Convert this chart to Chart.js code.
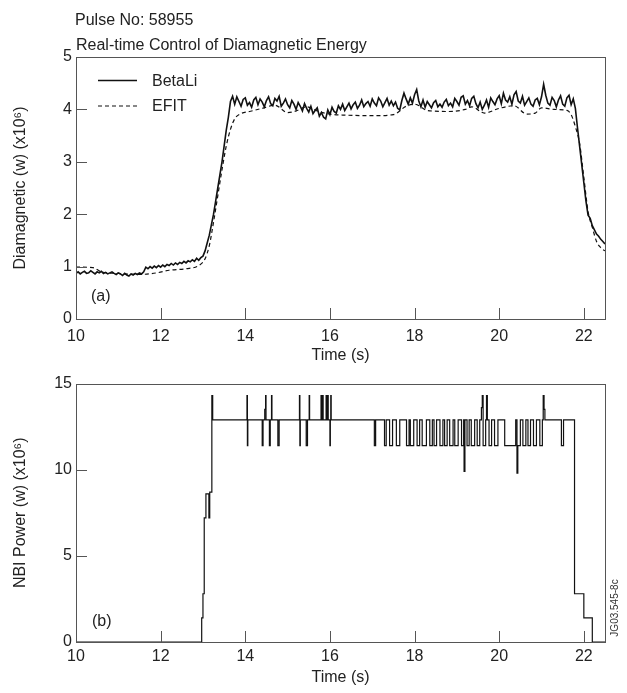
<!DOCTYPE html>
<html>
<head>
<meta charset="utf-8">
<title>Pulse No: 58955</title>
<script src="https://cdn.jsdelivr.net/npm/chart.js@4.4.0/dist/chart.umd.min.js"></script>
<style>
  body { margin: 0; background: #fff; }
  #wrap { position: relative; width: 627px; height: 693px; }
  canvas { position: absolute; left: 0; }
  #topChart { top: 0; }
  #bottomChart { top: 370px; }
</style>
</head>
<body>
<div id="wrap">
  <canvas id="topChart" width="627" height="370"></canvas>
  <canvas id="bottomChart" width="627" height="323"></canvas>
</div>
<script>
// tick labels
var timeTicks = [10, 12, 14, 16, 18, 20, 22];
var energyTicks = [0, 1, 2, 3, 4, 5];
var powerTicks = [0, 5, 10, 15];

// BetaLi, sampled every 0.05 s from 10 s (x10^6 w)
var betaStart = 10.0;
var betaStep = 0.05;
var betaLi = [
  0.87, 0.90, 0.86, 0.89, 0.91, 0.87, 0.88, 0.92, 0.89, 0.86, 0.90, 0.88, 0.91, 0.87, 0.89, 0.86, 0.88, 0.90, 0.87, 0.85, 0.88,
  0.86, 0.83, 0.87, 0.84, 0.82, 0.86, 0.84, 0.87, 0.85, 0.88, 0.86, 0.90, 0.99, 0.96, 1.00, 0.97, 1.01, 0.98, 1.02, 0.99,
  1.03, 1.00, 1.04, 1.02, 1.06, 1.03, 1.07, 1.04, 1.08, 1.06, 1.10, 1.07, 1.11, 1.09, 1.13, 1.10, 1.16, 1.12, 1.17, 1.20,
  1.30, 1.45, 1.60, 1.80, 2.00, 2.25, 2.50, 2.75, 3.00, 3.30, 3.60, 3.85, 4.15, 4.25,
  4.10, 4.24, 4.15, 4.06, 4.19, 4.22, 4.08, 4.13, 4.04, 4.18, 4.23, 4.09, 4.20, 4.14, 4.05, 4.17, 4.24, 4.11,
  4.07, 4.21, 4.16, 4.25, 4.06, 4.12, 4.20, 4.09, 4.03, 4.17, 4.10, 4.00, 4.13, 4.06, 3.97, 4.11, 4.02, 3.95,
  4.06, 3.92, 3.98, 4.03, 3.87, 3.94, 3.85, 3.82, 3.99, 3.90,
  4.04, 3.96, 3.93, 4.07, 4.00, 4.10, 3.98, 4.05, 4.12, 4.01, 4.09, 4.14, 4.02, 4.08, 4.18,
  4.05, 4.11, 4.15, 4.06, 4.20, 4.12, 4.07, 4.22, 4.16, 4.05, 4.13, 4.21, 4.08, 4.16, 4.07,
  4.14, 4.02, 3.99, 4.17, 4.31, 4.20, 4.10, 4.22, 4.12, 4.28, 4.38, 4.16, 4.05, 4.18,
  4.04, 4.15, 4.09, 4.03, 4.13, 4.17, 4.05, 4.10, 4.04, 4.14, 4.19, 4.07, 4.12,
  4.05, 4.21, 4.15, 4.08, 4.23, 4.26, 4.10, 4.17, 4.07, 4.21, 4.25, 4.11, 4.03,
  4.14, 4.00, 4.08, 4.18, 4.04, 4.22, 4.15, 4.09, 4.20, 4.26, 4.11, 4.31, 4.18, 4.14, 4.24, 4.10, 4.28, 4.34, 4.16, 4.12,
  4.25, 4.08, 4.15, 4.22, 4.10, 4.06, 4.18, 4.21, 4.09, 4.24, 4.48, 4.27, 4.12,
  4.08, 4.23, 4.17, 4.05, 4.18, 4.26, 4.10, 4.06, 4.22, 4.27, 4.09, 4.20, 4.02,
  3.65, 3.30, 2.95, 2.60, 2.25, 1.98, 1.92, 1.78, 1.70, 1.62, 1.58, 1.52, 1.48, 1.43
];

// EFIT reconstruction (x10^6 w)
var efitTime = [10.0, 10.4, 10.6, 11.0, 11.5, 11.9, 12.2, 12.6, 12.9, 13.05, 13.15, 13.25, 13.35, 13.45, 13.55,
  13.65, 13.75, 13.9, 14.1, 14.4, 14.7, 15.0, 15.2, 15.45, 15.7, 16.0, 16.4, 17.0, 17.5, 17.8, 18.0, 18.3,
  18.8, 19.2, 19.35, 19.65, 20.0, 20.35, 20.65, 20.85, 21.0, 21.3, 21.6, 21.7, 21.8, 21.9, 22.0, 22.1,
  22.2, 22.3, 22.4, 22.5];
var efitEnergy = [0.99, 0.98, 0.90, 0.87, 0.85, 0.88, 0.93, 0.96, 1.02, 1.15, 1.40, 1.85, 2.35, 2.85, 3.30,
  3.62, 3.82, 3.92, 3.96, 4.02, 4.08, 3.94, 3.97, 4.05, 3.97, 3.91, 3.89, 3.88, 3.90, 4.06, 4.10, 3.98,
  3.96, 4.00, 4.05, 3.93, 4.02, 4.07, 3.91, 3.93, 4.03, 4.00, 3.98, 3.90, 3.67, 3.35, 2.70, 2.05,
  1.75, 1.48, 1.36, 1.30];

// NBI power, step changes (x10^6 w): each value holds until the next time
var nbiTime = [10.0, 12.97, 13.00, 13.03, 13.07, 13.14, 13.16, 13.21, 13.23,
  14.04, 14.05, 14.06, 14.40, 14.42, 14.46, 14.48, 14.49, 14.57, 14.59, 14.62, 14.63, 14.77, 14.80,
  15.28, 15.29, 15.30, 15.44, 15.47, 15.51, 15.52, 15.79, 15.81, 15.83, 15.84, 15.91, 15.93, 15.95, 15.96,
  16.00, 16.01, 16.02, 16.03, 17.05, 17.08, 17.29, 17.33,
  17.41, 17.48, 17.57, 17.65, 17.81, 17.87, 17.90, 17.98, 18.06, 18.12, 18.18, 18.28, 18.36, 18.42,
  18.46, 18.52, 18.60, 18.67, 18.71, 18.77, 18.83, 18.91, 18.95, 19.03, 19.11, 19.16, 19.17, 19.19,
  19.24, 19.29, 19.34, 19.42, 19.48, 19.54, 19.58, 19.60, 19.62, 19.68, 19.70, 19.72, 19.76, 19.82,
  19.89, 19.97, 20.13, 20.39, 20.42, 20.44, 20.50, 20.56, 20.63, 20.68, 20.74, 20.81, 20.88,
  20.96, 21.02, 21.04, 21.06, 21.08, 21.47, 21.52, 21.78, 22.00, 22.20, 22.5];
var nbiPower = [0, 1.4, 2.8, 7.2, 8.6, 7.2, 8.7, 14.3, 12.9,
  14.3, 11.4, 12.9, 11.4, 12.9, 13.5, 14.3, 12.9, 11.4, 12.9, 14.3, 12.9, 11.4, 12.9,
  14.3, 11.4, 12.9, 11.4, 12.9, 14.3, 12.9, 14.3, 12.9, 14.3, 12.9, 14.3, 12.9, 14.3, 12.9,
  11.4, 12.9, 14.3, 12.9, 11.4, 12.9, 11.4, 12.9,
  11.4, 12.9, 11.4, 12.9, 11.4, 12.9, 11.4, 12.9, 11.4, 12.9, 11.4, 12.9, 11.4, 12.9,
  11.4, 12.9, 11.4, 12.9, 11.4, 12.9, 11.4, 12.9, 11.4, 12.9, 11.4, 12.9, 9.9, 12.9,
  11.4, 12.9, 11.4, 12.9, 11.4, 12.9, 13.6, 14.3, 11.4, 12.9, 14.3, 12.9, 11.4, 12.9,
  11.4, 12.9, 11.4, 12.9, 9.8, 11.4, 12.9, 11.4, 12.9, 11.4, 12.9, 11.4, 12.9,
  11.4, 12.9, 14.3, 13.5, 12.9, 11.4, 12.9, 2.8, 1.4, 0, 0];

var textColor = '#222';
var fontFamily = '"Liberation Sans", Arial, Helvetica, sans-serif';

function toPoints(xs, ys) {
  return ys.map(function (v, i) { return { x: xs[i], y: v }; });
}

var betaPoints = betaLi.map(function (v, i) {
  return { x: +(betaStart + i * betaStep).toFixed(2), y: v };
});

// box round the plot area, ticks pointing inward, and the texts on the plot
var frameTicks = {
  id: 'frameTicks',
  afterDraw: function (chart, args, opts) {
    var ctx = chart.ctx;
    var a = chart.chartArea;
    var xs = chart.scales.x;
    var ys = chart.scales.y;
    ctx.save();
    ctx.strokeStyle = '#555';
    ctx.lineWidth = 1;
    ctx.strokeRect(Math.round(a.left) + 0.5, Math.round(a.top) + 0.5,
      Math.round(a.right - a.left), Math.round(a.bottom - a.top));
    ctx.beginPath();
    xs.ticks.forEach(function (t) {
      var px = Math.round(xs.getPixelForValue(t.value)) + 0.5;
      ctx.moveTo(px, a.bottom);
      ctx.lineTo(px, a.bottom - 11);
    });
    ys.ticks.forEach(function (t) {
      var py = Math.round(ys.getPixelForValue(t.value)) + 0.5;
      ctx.moveTo(a.left, py);
      ctx.lineTo(a.left + 11, py);
    });
    ctx.stroke();

    ctx.fillStyle = textColor;
    ctx.font = '16px ' + fontFamily;
    ctx.textAlign = 'left';
    ctx.textBaseline = 'middle';
    (opts.texts || []).forEach(function (t) {
      ctx.fillText(t.text, t.x, t.y);
    });

    if (opts.legend) {
      var lg = opts.legend;
      ctx.strokeStyle = '#111';
      ctx.lineWidth = 1.5;
      ctx.beginPath();
      ctx.moveTo(lg.x, lg.y1);
      ctx.lineTo(lg.x + 39, lg.y1);
      ctx.stroke();
      ctx.lineWidth = 1.2;
      ctx.setLineDash([4, 3]);
      ctx.beginPath();
      ctx.moveTo(lg.x, lg.y2);
      ctx.lineTo(lg.x + 39, lg.y2);
      ctx.stroke();
      ctx.setLineDash([]);
      ctx.fillText(lg.labels[0], lg.x + 54, lg.y1 + 1);
      ctx.fillText(lg.labels[1], lg.x + 54, lg.y2 + 1);
    }

    if (opts.code) {
      ctx.save();
      ctx.translate(opts.code.x, opts.code.y);
      ctx.rotate(-Math.PI / 2);
      ctx.font = '10px ' + fontFamily;
      ctx.fillStyle = '#333';
      ctx.textAlign = 'center';
      ctx.fillText(opts.code.text, 0, 0);
      ctx.restore();
    }
    ctx.restore();
  }
};

function axisOptions(ticksArr, min, max, title, labelPad, titlePad, fitSize, isX) {
  return {
    type: 'linear',
    min: min,
    max: max,
    afterBuildTicks: function (scale) {
      scale.ticks = ticksArr.map(function (v) { return { value: v }; });
    },
    afterFit: function (scale) {
      if (isX) { scale.height = fitSize; } else { scale.width = fitSize; }
    },
    grid: { display: false, drawTicks: false },
    border: { display: false },
    ticks: {
      autoSkip: false,
      maxRotation: 0,
      padding: labelPad,
      color: textColor,
      font: { family: fontFamily, size: 16 }
    },
    title: {
      display: true,
      text: title,
      color: textColor,
      padding: titlePad,
      font: { family: fontFamily, size: 16 }
    }
  };
}

var topChart = new Chart(document.getElementById('topChart'), {
  type: 'line',
  data: {
    datasets: [{
      label: 'BetaLi',
      data: betaPoints,
      borderColor: '#111',
      borderWidth: 1.6,
      pointRadius: 0,
      tension: 0
    }, {
      label: 'EFIT',
      data: toPoints(efitTime, efitEnergy),
      borderColor: '#111',
      borderWidth: 1.2,
      borderDash: [4, 3],
      pointRadius: 0,
      cubicInterpolationMode: 'monotone'
    }]
  },
  options: {
    responsive: false,
    animation: false,
    layout: { padding: { left: 0, right: 22, top: 57, bottom: 0 } },
    plugins: {
      legend: { display: false },
      tooltip: { enabled: false },
      frameTicks: {
        texts: [
          { text: 'Pulse No: 58955', x: 75, y: 21 },
          { text: 'Real-time Control of Diamagnetic Energy', x: 76, y: 46 },
          { text: '(a)', x: 91, y: 297 }
        ],
        legend: { x: 98, y1: 80.5, y2: 106, labels: ['BetaLi', 'EFIT'] }
      }
    },
    scales: {
      x: axisOptions(timeTicks, 10, 22.5, 'Time (s)', 8, { top: 2, bottom: 5 }, 51, true),
      y: axisOptions(energyTicks, 0, 5, 'Diamagnetic (w) (x10\u2076)', 4, { top: 11, bottom: 0 }, 76, false)
    }
  },
  plugins: [frameTicks]
});

var bottomChart = new Chart(document.getElementById('bottomChart'), {
  type: 'line',
  data: {
    datasets: [{
      label: 'NBI Power',
      data: toPoints(nbiTime, nbiPower),
      borderColor: '#111',
      borderWidth: 1.2,
      pointRadius: 0,
      stepped: 'before'
    }]
  },
  options: {
    responsive: false,
    animation: false,
    layout: { padding: { left: 0, right: 22, top: 11, bottom: 0 } },
    plugins: {
      legend: { display: false },
      tooltip: { enabled: false },
      frameTicks: {
        texts: [{ text: '(b)', x: 92, y: 252 }],
        code: { text: 'JG03.545-8c', x: 615, y: 238 }
      }
    },
    scales: {
      x: axisOptions(timeTicks, 10, 22.5, 'Time (s)', 5, { top: 2, bottom: 6 }, 51, true),
      y: axisOptions(powerTicks, 0, 15, 'NBI Power (w) (x10\u2076)', 4, { top: 11, bottom: 0 }, 76, false)
    }
  },
  plugins: [frameTicks]
});
</script>
</body>
</html>
